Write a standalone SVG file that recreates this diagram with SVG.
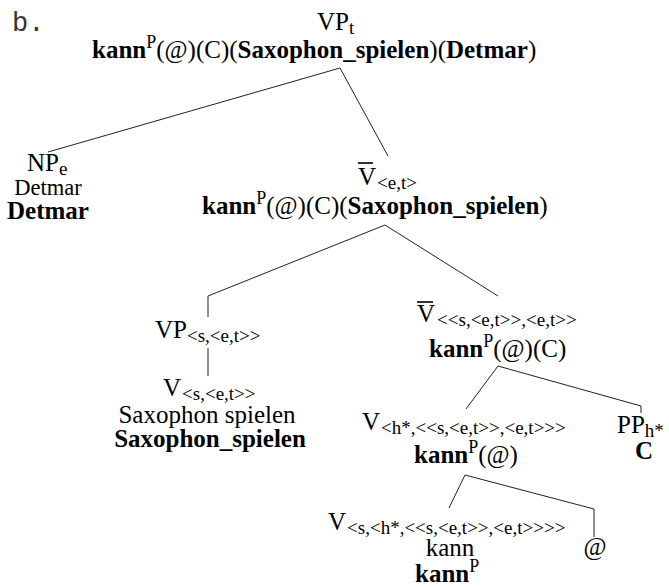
<svg xmlns="http://www.w3.org/2000/svg" width="669" height="587" viewBox="0 0 669 587">
<style>
text{font-family:"Liberation Serif","Times New Roman",serif;font-size:25px;fill:#000}
.b{font-weight:bold}
.sub{font-size:19px;font-weight:normal}
.sup{font-size:18px;font-weight:normal}
.lab{font-family:"Liberation Mono","DejaVu Sans Mono",monospace;font-size:27px;fill:#333}
.e{stroke:#222;stroke-width:1;fill:none}
.bar{stroke:#000;stroke-width:1.6}
</style>
<rect width="669" height="587" fill="#fff"/>
<text class="lab" x="12" y="31">b.</text>
<g id="connectors">
<polyline class="e" points="48,152 340,68 388,156"/>
<polyline class="e" points="208,317 208,296 385,225 498,296"/>
<line class="e" x1="208" y1="348" x2="208" y2="376"/>
<polyline class="e" points="466,409 498,366 641,406 641,413"/>
<polyline class="e" points="449,508 465,475 594,509 594,537"/>
</g>
<g id="n-root">
<text x="317" y="30">VP<tspan class="sub" dy="4">t</tspan></text>
<text x="92" y="58"><tspan class="b">kann</tspan><tspan class="sup" dy="-10">P</tspan><tspan dy="10">(@)(C)(</tspan><tspan class="b">Saxophon_spielen</tspan>)(<tspan class="b">Detmar</tspan>)</text>
</g>
<g id="n-np">
<text x="27" y="171">NP<tspan class="sub" dy="4">e</tspan></text>
<text x="48" y="195" text-anchor="middle" style="font-size:22.5px">Detmar</text>
<text x="48" y="219" text-anchor="middle" class="b">Detmar</text>
</g>
<g id="n-vbar1">
<line class="bar" x1="358" y1="163" x2="373" y2="163"/>
<text x="358" y="185">V<tspan class="sub" dx="1" dy="4">&lt;e,t&gt;</tspan></text>
<text x="202" y="214"><tspan class="b">kann</tspan><tspan class="sup" dy="-10">P</tspan><tspan dy="10">(@)(C)(</tspan><tspan class="b">Saxophon_spielen</tspan>)</text>
</g>
<g id="n-vp">
<text x="155" y="338">VP<tspan class="sub" dy="4">&lt;s,&lt;e,t&gt;&gt;</tspan></text>
</g>
<g id="n-v-sax">
<text x="163" y="396">V<tspan class="sub" dx="1" dy="4">&lt;s,&lt;e,t&gt;&gt;</tspan></text>
<text x="207" y="423" text-anchor="middle">Saxophon spielen</text>
<text x="210" y="447" text-anchor="middle" class="b">Saxophon_spielen</text>
</g>
<g id="n-vbar2">
<line class="bar" x1="417" y1="302" x2="433" y2="302"/>
<text x="417" y="322">V<tspan class="sub" dx="2" dy="4">&lt;&lt;s,&lt;e,t&gt;&gt;,&lt;e,t&gt;&gt;</tspan></text>
<text x="429" y="357"><tspan class="b">kann</tspan><tspan class="sup" dy="-10">P</tspan><tspan dy="10">(@)(C)</tspan></text>
</g>
<g id="n-v-h">
<text x="362" y="430">V<tspan class="sub" dx="1" dy="4">&lt;h*,&lt;&lt;s,&lt;e,t&gt;&gt;,&lt;e,t&gt;&gt;&gt;</tspan></text>
<text x="414" y="463"><tspan class="b">kann</tspan><tspan class="sup" dy="-10">P</tspan><tspan dy="10">(@)</tspan></text>
</g>
<g id="n-pp">
<text x="617" y="433">PP<tspan class="sub" dy="4">h*</tspan></text>
<text x="644" y="459" text-anchor="middle" class="b">C</text>
</g>
<g id="n-v-kann">
<text x="328" y="530">V<tspan class="sub" dx="1" dy="4">&lt;s,&lt;h*,&lt;&lt;s,&lt;e,t&gt;&gt;,&lt;e,t&gt;&gt;&gt;&gt;</tspan></text>
<text x="450" y="556" text-anchor="middle">kann</text>
<text x="415" y="582"><tspan class="b">kann</tspan><tspan class="sup" dy="-10">P</tspan></text>
</g>
<g id="n-at">
<text x="595" y="555" text-anchor="middle">@</text>
</g>
</svg>
